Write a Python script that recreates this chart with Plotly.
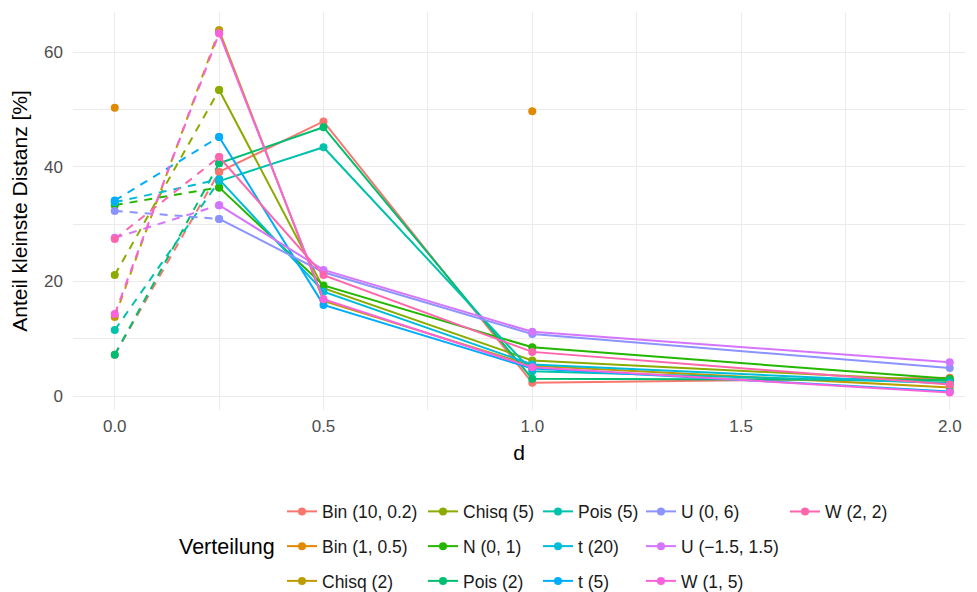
import plotly.graph_objects as go

# d values at which the share was evaluated
d_values = [0, 0.25, 0.5, 1, 2]

series_names = [
    "Bin (10, 0.2)", "Bin (1, 0.5)", "Chisq (2)", "Chisq (5)", "N (0, 1)",
    "Pois (2)", "Pois (5)", "t (20)", "t (5)", "U (0, 6)",
    "U (\u22121.5, 1.5)", "W (1, 5)", "W (2, 2)",
]

# share of smallest distance [%] per distribution, at d = 0, 0.25, 0.5, 1, 2
bin_10_02 = [7.2, 39.1, 47.9, 2.3, 3.2]
bin_1_05 = [50.3, None, None, 49.7, None]
chisq_2 = [13.8, 63.8, 16.6, 5.3, 1.5]
chisq_5 = [21.1, 53.4, 18.8, 6.2, 2.6]
norm_0_1 = [33.3, 36.4, 19.3, 8.5, 3.0]
pois_2 = [7.2, 40.6, 46.9, 3.0, 2.8]
pois_5 = [11.5, 37.5, 43.4, 4.3, 2.3]
t_20 = [33.8, 37.8, 18.2, 5.5, 2.2]
t_5 = [34.1, 45.2, 15.9, 4.8, 0.8]
unif_0_6 = [32.3, 30.9, 21.6, 10.8, 4.9]
unif_m15_15 = [27.6, 33.3, 22.0, 11.2, 5.9]
weib_1_5 = [14.3, 63.3, 16.9, 5.0, 0.6]
weib_2_2 = [27.4, 41.7, 21.1, 7.7, 2.0]

series_values = [
    bin_10_02, bin_1_05, chisq_2, chisq_5, norm_0_1, pois_2, pois_5,
    t_20, t_5, unif_0_6, unif_m15_15, weib_1_5, weib_2_2,
]

colors = [
    "#F8766D", "#E18A00", "#BE9C00", "#8CAB00", "#24B700", "#00BE70", "#00C1AB",
    "#00BBDA", "#00ACFC", "#8B93FF", "#D575FE", "#F962DD", "#FF65AC",
]

# legend column of each series (legend is laid out in 3 rows, filled column-wise)
legend_ids = ["legend", "legend", "legend", "legend2", "legend2", "legend2",
              "legend3", "legend3", "legend3", "legend4", "legend4", "legend4",
              "legend5"]

x_tick_vals = [0.0, 0.5, 1.0, 1.5, 2.0]
x_tick_text = ["0.0", "0.5", "1.0", "1.5", "2.0"]
y_tick_vals = [0, 20, 40, 60]
y_tick_text = ["0", "20", "40", "60"]

FONT = "Liberation Sans, Arial, sans-serif"
LW = 2
MS = 8

fig = go.Figure()

# dashed segments between d = 0 and d = 0.25
for name, vals, col in zip(series_names, series_values, colors):
    fig.add_trace(go.Scatter(
        x=d_values[:2], y=vals[:2], mode="lines+markers",
        line=dict(color=col, width=LW, dash="8px,7px"),
        marker=dict(color=col, size=MS),
        showlegend=False, hoverinfo="x+y+name", name=name, connectgaps=False,
    ))

# solid segments from d = 0.25 onwards
for name, vals, col, lg in zip(series_names, series_values, colors, legend_ids):
    fig.add_trace(go.Scatter(
        x=d_values[1:], y=vals[1:], mode="lines+markers",
        line=dict(color=col, width=LW),
        marker=dict(color=col, size=MS),
        name=name, legend=lg, legendgroup=name, connectgaps=False,
    ))

L, R, T, B = 73, 12, 12, 182
W, H = 977, 592
pw, ph = W - L - R, H - T - B


def lx(px):
    return (px - L) / pw


def ly(py):
    return (H - B - py) / ph


legend_common = dict(
    orientation="v", xanchor="left", yanchor="top",
    font=dict(family=FONT, size=17.5, color="#1A1A1A"),
    bgcolor="rgba(0,0,0,0)", tracegroupgap=9, itemwidth=30,
)
col_x = [282, 423, 538, 641, 785]
row_top = 493.5
legends = {}
for i, key in enumerate(["legend", "legend2", "legend3", "legend4", "legend5"]):
    legends[key] = dict(legend_common, x=lx(col_x[i]), y=ly(row_top))

fig.update_layout(
    width=W, height=H,
    margin=dict(l=L, r=R, t=T, b=B, pad=0, autoexpand=False),
    plot_bgcolor="white", paper_bgcolor="white",
    font=dict(family=FONT, size=17, color="#4D4D4D"),
    xaxis=dict(
        range=[-0.1, 2.0365], tickvals=x_tick_vals, ticktext=x_tick_text,
        showgrid=True, gridcolor="#EBEBEB", gridwidth=1.1,
        minor=dict(tickvals=[0.25, 0.75, 1.25, 1.75], showgrid=True,
                   gridcolor="#EBEBEB", gridwidth=0.6),
        zeroline=False, showline=False, ticks="", ticklen=0,
        ticklabelstandoff=4, automargin=False,
        tickfont=dict(family=FONT, size=17, color="#4D4D4D"),
        title=dict(text="d", font=dict(family=FONT, size=21, color="#000000"),
                   standoff=10),
    ),
    yaxis=dict(
        range=[-2.44, 67.0], tickvals=y_tick_vals, ticktext=y_tick_text,
        showgrid=True, gridcolor="#EBEBEB", gridwidth=1.1,
        minor=dict(tickvals=[10, 30, 50], showgrid=True,
                   gridcolor="#EBEBEB", gridwidth=0.6),
        zeroline=False, showline=False, ticks="", ticklen=0,
        ticklabelstandoff=9, automargin=False,
        tickfont=dict(family=FONT, size=17, color="#4D4D4D"),
        title=dict(text="Anteil kleinste Distanz [%]",
                   font=dict(family=FONT, size=21, color="#000000"), standoff=10),
    ),
    annotations=[dict(
        text="Verteilung", x=lx(177), y=ly(547), xref="paper", yref="paper",
        xanchor="left", yanchor="middle", showarrow=False,
        font=dict(family=FONT, size=21.5, color="#000000"),
    )],
    **legends,
)

fig.write_html("out.html")
